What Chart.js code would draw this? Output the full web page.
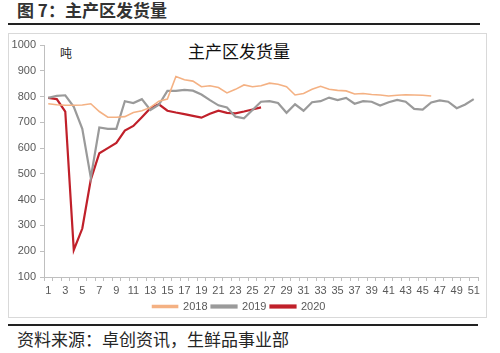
<!DOCTYPE html>
<html>
<head>
<meta charset="utf-8">
<script src="https://cdn.jsdelivr.net/npm/chart.js@4"></script>
<style>
  body { margin: 0; width: 500px; height: 353px; position: relative; background: #fff; overflow: hidden;
         font-family: "Noto Sans CJK SC", sans-serif; }
  .abs { position: absolute; }
  #title { left: 17px; top: 0px; font-size: 17px; font-weight: bold; color: #333; line-height: 20px; }
  #topline { left: 8px; top: 23px; width: 472px; height: 2px; background: #222; }
  #box { left: 8px; top: 33px; width: 477px; height: 283px; border: 1px solid #d9d9d9; }
  #inner { left: 188px; top: 40px; font-size: 17px; color: #111; line-height: 22px; }
  #unit { left: 60px; top: 45px; font-size: 12px; color: #222; line-height: 16px; }
  #botline { left: 8px; top: 324px; width: 470px; height: 2px; background: #222; }
  #source { left: 17px; top: 328px; font-size: 17px; color: #262626; line-height: 22px; }
  #c { left: 0; top: 0; }
</style>
</head>
<body>
<div class="abs" id="title">图 7：主产区发货量</div>
<div class="abs" id="topline"></div>
<div class="abs" id="box"></div>
<div class="abs" id="inner">主产区发货量</div>
<div class="abs" id="unit">吨</div>
<div class="abs" id="botline"></div>
<div class="abs" id="source">资料来源：卓创资讯，生鲜品事业部</div>
<canvas class="abs" id="c" width="500" height="353"></canvas>
<script>
const weeks = [];
for (let i = 1; i <= 51; i++) weeks.push(String(i));

const y2018 = [772, 768, 766, 766, 767, 772, 742, 720, 720, 722, 738, 745, 758, 782, 790,
  878, 865, 860, 838, 842, 835, 814, 828, 845, 838, 842, 852, 848, 838, 806,
  812, 828, 840, 828, 824, 822, 810, 812, 808, 806, 802, 805, 807, 806, 805, 802];
const y2019 = [795, 803, 805, 760, 675, 485, 680, 675, 675, 782, 775, 790, 748, 768, 822,
  822, 826, 823, 808, 786, 766, 758, 722, 716, 748, 780, 782, 775, 737, 770,
  745, 778, 782, 796, 786, 795, 772, 782, 780, 765, 778, 787, 780, 752, 749,
  777, 785, 780, 755, 769, 790];
const y2020 = [795, 790, 742, 205, 288, 478, 580, 600, 620, 668, 686, 720, 755, 770, 745,
  738, 732, 725, 718, 733, 745, 737, 735, 742, 750, 758];

const tickColor = "#595959";
const axisColor = "#bfbfbf";
const tickFont = { family: "Liberation Sans", size: 11 };

const config = {
  type: "line",
  data: {
    labels: weeks,
    datasets: [
      { label: "2018", data: y2018, borderColor: "#f4b183", backgroundColor: "#f4b183", borderWidth: 1.6 },
      { label: "2019", data: y2019, borderColor: "#9a9a9a", backgroundColor: "#9a9a9a", borderWidth: 2.2 },
      { label: "2020", data: y2020, borderColor: "#c0202a", backgroundColor: "#c0202a", borderWidth: 2.2 },
    ],
  },
  options: {
    responsive: false,
    animation: false,
    elements: { point: { radius: 0 }, line: { tension: 0 } },
    layout: { padding: { top: 45, left: 0, right: 22, bottom: 31 } },
    plugins: {
      legend: {
        position: "bottom",
        labels: { boxWidth: 25, boxHeight: 2, padding: 4, color: tickColor, font: tickFont },
      },
      tooltip: { enabled: false },
    },
    scales: {
      x: {
        offset: true,
        grid: { offset: true, drawOnChartArea: false, tickLength: 4, color: axisColor },
        border: { color: axisColor },
        ticks: {
          autoSkip: false, maxRotation: 0, padding: 3, color: tickColor, font: tickFont,
          callback: (v, i) => (i % 2 === 0 ? weeks[i] : ""),
        },
        afterFit: (s) => { s.height = 20; },
      },
      y: {
        min: 100,
        max: 1000,
        grid: { drawOnChartArea: false, tickLength: 4, color: axisColor },
        border: { color: axisColor },
        ticks: { stepSize: 100, padding: 4, color: tickColor, font: tickFont, callback: (v) => String(v) },
        afterFit: (s) => { s.width = 44; },
      },
    },
  },
};
new Chart(document.getElementById("c").getContext("2d"), config);
</script>
</body>
</html>
